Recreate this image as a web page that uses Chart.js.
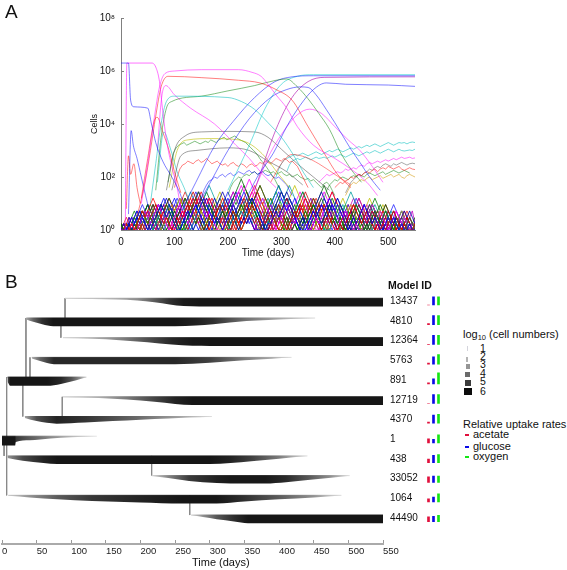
<!DOCTYPE html>
<html>
<head>
<meta charset="utf-8">
<title>Clone dynamics and lineage tree</title>
<script src="https://cdn.jsdelivr.net/npm/chart.js@4.4.1/dist/chart.umd.min.js"></script>
<style>
body { margin: 0; background: #fff; }
#page { position: relative; width: 567px; height: 570px; overflow: hidden; font-family: "Liberation Sans", Arial, sans-serif; color: #111; }
#page canvas { position: absolute; }
.t { position: absolute; white-space: nowrap; line-height: 1; }
.sq { position: absolute; }
</style>
</head>
<body>
<div id="page">
  <canvas id="chartA" width="430" height="265" style="left:0;top:0"></canvas>
  <canvas id="chartB" width="425" height="300" style="left:0;top:270px"></canvas>
  <canvas id="chartC" width="30" height="300" style="left:420px;top:270px"></canvas>

  <div class="t" style="left:5px;top:2px;font-size:19px">A</div>
  <div class="t" style="left:5px;top:272px;font-size:19px">B</div>
  <div class="t" style="left:388px;top:280px;font-size:10.5px;font-weight:bold">Model ID</div>
  <div class="t" style="left:192px;top:557px;font-size:11px">Time (days)</div>

  <!-- legend: log10 cell numbers -->
  <div class="t" style="left:463px;top:329px;font-size:11px">log<span style="font-size:7.5px;position:relative;top:2px">10</span> (cell numbers)</div>
  <div class="sq" style="left:467px;top:346px;width:1px;height:5px;background:#d4d4dc"></div>
  <div class="sq" style="left:466px;top:357px;width:2px;height:5px;background:#b4b4b4"></div>
  <div class="sq" style="left:466px;top:364px;width:4px;height:5px;background:#959595"></div>
  <div class="sq" style="left:465px;top:372px;width:5px;height:5px;background:#6a6a6a"></div>
  <div class="sq" style="left:465px;top:380px;width:6px;height:6px;background:#3c3c3c"></div>
  <div class="sq" style="left:464px;top:388px;width:8px;height:7px;background:#0c0c0c"></div>
  <div class="t" style="left:480px;top:343px;font-size:10.5px">1</div>
  <div class="t" style="left:480px;top:351px;font-size:10.5px">2</div>
  <div class="t" style="left:480px;top:359px;font-size:10.5px">3</div>
  <div class="t" style="left:480px;top:368px;font-size:10.5px">4</div>
  <div class="t" style="left:480px;top:376px;font-size:10.5px">5</div>
  <div class="t" style="left:480px;top:386px;font-size:10.5px">6</div>

  <!-- legend: uptake -->
  <div class="t" style="left:463px;top:419px;font-size:11px">Relative uptake rates</div>
  <div class="sq" style="left:465px;top:434px;width:4px;height:2px;background:#e0103c"></div>
  <div class="sq" style="left:465px;top:446px;width:4px;height:2px;background:#0a0ae6"></div>
  <div class="sq" style="left:465px;top:456px;width:4px;height:2px;background:#14e614"></div>
  <div class="t" style="left:473px;top:429px;font-size:11px">acetate</div>
  <div class="t" style="left:473px;top:441px;font-size:11px">glucose</div>
  <div class="t" style="left:473px;top:451px;font-size:11px">oxygen</div>
</div>

<script>
// -------------------------------
// DATA - panel A (cells over time)
// -------------------------------
const timeTicksA = [0, 100, 200, 300, 400, 500];
const cellTicks = [1, 1e2, 1e4, 1e6, 1e8];
const cellTickLabels = ['10⁰', '10²', '10⁴', '10⁶', '10⁸'];

// big clones: [day, log10 cells]
const blueFounder = [[0,6.3],[14,6.3],[18,4.9],[24,4.65],[50,4.6],[57,4.0],[65,3.3],[78,2.6],[95,2.0],[110,1.4],[120,0.8]];
const pinkFounder = [[8,0],[11,6.3],[58,6.3],[66,6.1],[72,5.6],[78,4.5],[85,3.4],[95,2.4],[105,1.6],[112,0.8]];
const pinkPlateau = [[38,1.0],[50,2.5],[62,4.2],[72,5.4],[82,5.9],[100,6.0],[150,6.05],[220,6.05],[245,5.95],[262,5.8],[275,5.5],[290,5.1],[310,4.6],[330,3.9],[360,3.2],[400,2.7],[430,2.3],[460,1.8],[480,1.3]];
const redPlateau = [[30,0.5],[45,1.8],[55,3.0],[65,4.3],[75,5.4],[88,5.8],[150,5.75],[220,5.65],[260,5.55],[290,5.3],[320,4.9],[350,3.9],[380,2.9],[405,2.1],[430,1.6]];
const cyanPlateau = [[55,1.0],[65,2.5],[75,4.0],[85,4.85],[100,5.05],[200,5.0],[225,4.85],[250,4.55],[275,4.05],[300,3.5],[322,2.85],[342,2.15],[360,1.6]];
const greenClimber = [[65,1.5],[75,3.5],[85,4.6],[95,4.85],[150,5.05],[200,5.25],[250,5.45],[290,5.65],[310,5.7],[330,5.4],[350,4.95],[370,4.4],[390,3.8],[410,2.95],[430,2.3],[450,1.8]];
const pinkDecline = [[68,3.0],[76,5.0],[84,5.45],[100,5.1],[130,4.6],[175,4.0],[215,3.2],[240,2.7],[265,2.1],[290,1.6]];
const redEarlyPeak = [[38,1.2],[50,2.7],[62,4.1],[68,4.25],[78,3.7],[90,3.0],[100,2.2],[112,1.4]];
const blueEarlySpike = [[14,0.6],[19,3.75],[23,3.2],[30,2.7],[38,2.0],[46,1.3],[52,0.8]];
const redEarlySpike = [[10,0.8],[14,2.8],[18,2.1],[24,2.5],[30,1.6],[36,1.0]];
const blueRiserA = [[115,0.8],[140,1.8],[176,3.2],[210,4.1],[250,5.0],[288,5.6],[320,5.78],[360,5.82],[550,5.82]];
const blueRiserB = [[140,0.8],[170,1.9],[200,3.0],[240,4.2],[280,5.0],[310,5.3],[335,5.4],[350,5.38],[365,5.1],[384,4.55],[400,4.05],[415,3.55],[430,3.05],[447,2.55],[465,2.0],[485,1.5]];
const blueRiserC = [[230,1.0],[255,2.0],[285,2.9],[310,3.9],[335,4.7],[360,5.3],[384,5.55],[420,5.5],[500,5.47],[550,5.42]];
const cyanTop = [[200,1.5],[240,3.2],[270,4.6],[300,5.5],[330,5.8],[360,5.86],[550,5.86]];
const purpleTop = [[250,1.5],[290,3.8],[320,5.0],[350,5.6],[380,5.76],[550,5.78]];
const pinkHump = [[240,1.2],[260,2.0],[273,2.65],[300,3.6],[330,4.35],[353,4.56],[375,4.4],[400,3.9],[425,3.4],[447,3.0],[470,2.4],[490,1.8]];
const grayMid = [[85,1.5],[100,3.0],[120,3.55],[150,3.7],[200,3.72],[250,3.7],[275,3.5],[300,3.05],[330,2.5],[360,2.0],[390,1.5]];
const yellowMid = [[90,1.6],[105,3.0],[125,3.4],[170,3.45],[220,3.4],[245,3.2],[270,2.75],[295,2.1],[315,1.6]];
const grayLow = [[95,1.5],[112,2.8],[140,3.0],[200,3.1],[240,3.0],[275,2.6],[310,2.2],[340,1.7]];
const redLate = [[280,1.8],[300,2.5],[320,2.85],[345,2.75],[370,2.5],[400,2.1],[430,1.7]];
const cyanEarly = [[68,1.8],[80,3.7],[92,3.1],[105,2.2],[118,1.6],[128,1.1]];

// wiggly mid-sized clones: log10 cells every 5 days from the start day
const wiggleStep = 5;
const redMidLogs = [1.6,2.0,2.3,2.45,2.5,2.6,2.55,2.5,2.6,2.65,2.55,2.6,2.7,2.6,2.5,2.55,2.6,2.5,2.45,2.5,2.4,2.5,2.55,2.45,2.4,2.5,2.45,2.35,2.45,2.5,2.4,2.45,2.55,2.5,2.6,2.55,2.5,2.6,2.7,2.65,2.6,2.7,2.65,2.55,2.6,2.5,2.4,2.2,2.0,1.8,1.6];
const greenMidLogs = [1.8,2.4,2.9,3.1,3.2,3.25,3.3,3.2,3.25,3.3,3.35,3.3,3.25,3.3,3.35,3.3,3.4,3.35,3.3,3.4,3.45,3.5,3.4,3.45,3.5,3.55,3.45,3.4,3.35,3.3,3.2,3.1,3.0,2.9,2.75,2.6,2.5,2.35,2.2,2.05,1.9,1.7,1.5];
const cyanTailALogs = [2.0,2.3,2.5,2.65,2.7,2.75,2.8,2.85,2.8,2.85,2.9,2.85,2.8,2.85,2.9,2.95,2.9,2.85,2.9,2.95,3.0,2.95,3.0,3.05,3.0,2.95,3.0,3.05,3.1,3.05,3.1,3.15,3.1,3.15,3.2,3.15,3.2,3.25,3.2,3.15,3.2,3.25,3.3,3.25,3.2,3.25,3.3,3.28,3.3,3.25,3.3,3.32,3.3];
const cyanTailBLogs = [2.2,2.45,2.6,2.65,2.7,2.65,2.7,2.75,2.7,2.65,2.7,2.75,2.7,2.72,2.75,2.7,2.75,2.8,2.75,2.8,2.85,2.8,2.75,2.8,2.85,2.9,2.85,2.8,2.85,2.9,2.95,2.9,2.95,3.0,2.95,2.9,2.95,3.0,3.05,3.0,2.95,3.0,3.05,3.0,2.98,3.0,3.02,3.0,3.05];
const pinkTailLogs = [1.8,1.9,2.0,2.1,2.05,2.1,2.15,2.2,2.15,2.2,2.3,2.25,2.3,2.35,2.3,2.4,2.45,2.4,2.5,2.55,2.5,2.55,2.6,2.55,2.6,2.65,2.6,2.65,2.7,2.65,2.7,2.75,2.7,2.72,2.75,2.7,2.72];
const redTailLogs = [1.6,1.7,1.8,1.75,1.85,1.9,2.0,1.95,2.05,2.1,2.05,2.15,2.2,2.15,2.25,2.3,2.2,2.3,2.35,2.3,2.4,2.35,2.3,2.35,2.4,2.3,2.25,2.3,2.35,2.3,2.28];
const grayTailLogs = [1.4,1.6,1.8,1.9,2.0,2.1,2.05,2.15,2.2,2.3,2.25,2.35,2.4,2.35,2.45,2.5,2.45,2.4,2.5,2.45,2.5,2.55,2.5,2.45,2.5,2.52,2.5];
const greenTailLogs = [1.2,1.5,1.7,1.8,1.9,1.85,1.95,2.0,1.95,1.9,2.0,2.05,2.0,2.1,2.05,2.0,2.1,2.15,2.1,2.05,2.1,2.15,2.2,2.1,2.15,2.2,2.25,2.2,2.15,2.2,2.25,2.2,2.15];
const yellowTailLogs = [1.3,1.5,1.7,1.8,1.75,1.85,1.9,1.85,1.95,2.0,1.9,1.95,2.0,2.05,1.95,2.0,2.05,2.1,2.0,2.05,2.1,2.0,1.95,2.05,2.1,2.05,2.0];
const blueMidLogs = [1.2,1.5,1.7,1.85,1.9,2.0,1.95,2.05,2.1,2.0,2.1,2.15,2.05,2.1,2.2,2.15,2.1,2.2,2.25,2.15,2.2,2.1,2.15,2.2,2.1,2.05,2.1,2.0,1.95,2.0,1.9,1.8,1.7,1.5,1.3];
const greenLowLogs = [1.3,1.6,1.8,1.9,2.0,1.95,2.05,2.1,2.05,2.15,2.2,2.1,2.15,2.2,2.25,2.2,2.15,2.2,2.1,2.15,2.2,2.1,2.05,2.1,2.0,2.05,2.1,2.0,1.95,1.9,1.95,1.85,1.9,1.8,1.7,1.6,1.75,1.8,1.7,1.5,1.3];

// small clones near the floor: one digit per 5 days, digit d = 10^(0.24 d) cells
const floorStepDays = 5;
const floorDigitDecades = 0.24;
const floorClones = [
  "0001212321 0012343232 1001232343 4543212101 2343456545 4321011232 3434321000 1232343454 3232101212 3432121001 2121010010 0",
  "0010101232 3454323210 0123234545 6545432121 0012121234 3432123210 0101232345 4323434321 0012123432 1212321010 1232101000 1",
  "1010001232 1212343432 1000123456 5434321232 1012343234 5676543210 0121232101 2343454321 2121012343 2101232123 2101000121 0",
  "0000100123 2123432101 2343212345 4323210001 2345676787 6545432101 2343212101 0012123454 3212321010 0123432321 0123212101 0",
  "0101012121 0123434543 2101232343 2123454565 4321012121 0001232345 6565432121 0123212343 4543210101 2121232101 0012123232 1",
  "0010001010 1234321210 1212343454 5432123432 1232345432 1210001234 3454323456 5432101212 1010123434 3232101012 3210101210 0",
  "0000012321 2101232343 2121000123 4567654321 0121232321 2345454567 6545432101 2123210001 2343456543 2121012123 2321012101 0",
  "1001010123 4343210012 3234543212 1012343432 3456787654 3210121234 3210010123 2343212345 4321001232 1010123434 3212101001 2",
  "0010101012 1232101234 3454543212 3212100123 2343434543 2101232123 4345676543 2101212101 2345434321 0121012343 2101232101 0",
  "0100001232 3210121234 3212343456 5432100123 4565432123 2101234323 2121012345 4543212101 0123234545 4321012121 0123210123 1",
  "0001012123 2121012343 4543210123 2343212345 6543212343 2100123456 5432121010 1234343210 1212343454 3210012101 2343210101 0",
  "0010100101 2343212101 2345654321 0012123434 3210123456 7654321012 1210123432 3454321012 3210012345 4321210101 2121012321 0",
  "1000010123 2101232123 2101234345 4343212100 1232343454 3232345432 1001234565 4321212343 2101232121 0123432101 2101210010 1",
  "0000101012 3232101234 5432123210 1234321234 5456543212 1001232123 4345454321 0012121234 3432101234 3212321010 0121232101 0",
  "0101001232 1210123432 1232345432 1010123454 3232101234 5654543210 1232123432 1012343456 5432101212 3212101232 1010123210 0",
  "0010010123 4321012123 2100123434 5432101232 3454567654 3210123212 1012343212 3454321001 2123432101 0123454321 0121010100 1",
  "0000100121 2343432101 0123234321 2345434321 0012343456 5432121012 3234345654 3210012123 2101234321 2121012123 2121010121 0",
  "0001001012 1232343210 1234543212 1001234343 2123212345 4321001232 3454321012 1234565432 1012323210 0123432123 2101232101 0",
  "1010010123 2121001234 3432345654 3210121234 3210123434 5676543210 0121232343 2101234321 2343210012 1232101234 3210101210 1",
  "0000010123 4321212101 2343456543 2101232343 2123454543 2101212343 4567654321 0123210012 3434321012 1012343232 1010121010 0",
  "0100101232 1210123454 3210012323 4565432101 2121234345 4321012123 2343210012 3454567654 3210121010 1234321012 1232101000 1",
  "0010001012 3212343210 1012343234 3212345654 3212101232 3454321232 1001234345 4321234343 2101232101 2345432101 0121012101 0",
  "0000100123 2101234321 0123454321 2343210123 4565654321 0123432101 2345432121 0012343456 5432101212 3434321012 1010012101 0",
  "0101010121 2343210123 4321234565 4321012121 2343454323 2101234567 6543212343 2101212343 4543210012 1232121012 3212101010 1",
  "0121012321 2101234343 2121012345 4321232101 2343212345 6543210123 2121012343 4321012121 2343212101 0121232101 2121010101 0",
  "1010121012 3432101232 1012123454 3210012343 4543212343 2101234565 4321012121 2343210123 2101232121 0123212101 0101210101 0",
  "0102123210 1232345432 1012321012 3454321232 1012343454 5432101212 3454321012 1232123434 3210121012 3432101210 1012101210 1",
  "0012101012 3210123454 3212101232 3454543210 1232123432 1012345432 1012121234 3432101232 1012343212 1010123210 1210101010 0",
  "1001232101 2121232343 2101234321 0121234545 4321012123 2101232345 6543210121 0123434321 2121012321 0121232101 0101210101 0",
  "0101210123 4321012121 2343212345 4321012101 2343454321 0121232343 2101234321 2343456543 2101212101 2343210121 0121010121 0",
  "0010123212 1012343210 1232101234 5432101212 3432123454 3210121012 3434321012 1012345432 1012321012 3432101210 1232101010 1",
  "1000121232 1012123210 1234543212 1012323432 1012345654 3210121012 3210123434 3212101234 3210123212 1012123210 1010121010 0",
  "0101012321 0123432101 2121234321 2343212101 2345432123 2101234343 2101212343 4543212101 2343210121 2321012101 2101010121 0",
  "0010121012 1234321012 3454321012 1232101234 3432101234 5654321012 1232123432 1012343212 1010123432 1012321210 1210121010 1",
  "1010101232 3210121234 3210123212 3454321012 1012343454 3212101232 3454321012 1232101234 5432101212 3210123212 1012101210 0",
  "0001210123 2101232123 4343210123 2123432101 2345654321 0121234321 2343212101 2343432101 2121012343 2101012121 0101210101 0",
  "0100012343 2101212343 2101234543 2101232123 2343454321 0123212343 2101234565 4321012123 2101232121 0123432101 2101010101 0",
  "1010012121 0123432101 2345432123 2101234323 2101232343 4543210121 2343212101 2345432101 2121012321 0121012321 0101012101 1",
  "0101010123 4321012343 2121012345 4321012121 0123234545 4321012343 2101232123 4343210123 2101212343 2101210123 2101010101 0",
  "0010121012 3212101234 3212343456 5432101212 3432101234 3232101234 5454321012 1232101234 3210123212 1012121012 1010101210 0"
];
const floorCloneColors = ['#0000ff', '#ff0000', '#008000', '#ff00ff', '#0000b0', '#d00000', '#00a0a0', '#006400', '#bfbf00', '#c000c0', '#2020ff', '#e02020', '#00b000'];

// -------------------------------
// DATA - panel B (lineage tree)
// -------------------------------
const timeTicksB = [0, 50, 100, 150, 200, 250, 300, 350, 400, 450, 500, 550];
const modelIds = ['13437', '4810', '12364', '5763', '891', '12719', '4370', '1', '438', '33052', '1064', '44490'];

// [day, log10 cells] for each lineage, top to bottom
const track13437 = [[91,1.2],[130,1.8],[165,2.4],[195,3.1],[220,4.2],[242,5.2],[262,5.85],[285,6],[550,6]];
const track4810 = [[35,2.5],[45,4.0],[58,5.2],[74,6.0],[250,6.0],[280,5.7],[305,5.2],[353,3.7],[400,2.5],[452,0.8]];
const track12364 = [[88,1.2],[130,2.2],[170,3.3],[210,4.5],[245,5.5],[275,5.95],[300,6],[550,6]];
const track5763 = [[43,2.3],[55,4.0],[75,5.45],[250,5.45],[300,4.8],[350,3.5],[390,2.4],[418,0.8]];
const track891 = [[8,4.5],[12,6.2],[65,6.2],[85,5.5],[100,4.4],[112,3.1],[122,1]];
const track12719 = [[88,1.2],[140,2.3],[180,3.5],[220,4.7],[250,5.6],[275,6],[550,6]];
const track4370 = [[33,2.5],[50,4.5],[79,5.6],[120,5.1],[160,4.5],[200,3.8],[240,3.0],[270,2.2],[303,0.8]];
const track1 = [[0,6.4],[19,6.4],[20,5.0],[40,4.2],[70,3.2],[100,2.2],[137,0.6]];
const track438 = [[8,3.0],[30,4.6],[60,5.6],[80,6.0],[300,6.0],[330,5.6],[360,4.8],[400,3.5],[441,0.8]];
const track33052 = [[216,1.2],[240,3.3],[270,4.9],[310,5.7],[330,5.9],[380,5.9],[410,5.4],[445,4.2],[475,3.0],[502,0.8]];
const track1064 = [[9,1.5],[40,3.0],[80,4.2],[130,5.0],[200,5.6],[260,6.0],[310,6.0],[350,5.2],[400,4.2],[450,3.0],[490,0.8]];
const track44490 = [[273,1.2],[290,3.0],[310,4.3],[335,5.3],[355,6.0],[550,6.0]];

// branch links: [day, row of one end, row of the other end]
const branchLinks = [[3,7,8],[6.7,4,10],[30,4,6],[34.6,1,4],[40.4,3,4],[85,1,2],[91,0,1],[87,5,6.2],[216,8,9],[271,10,11]];

// relative uptake rates per lineage (1 = full bar)
const acetateUptake = [0, 0.12, 0, 0.12, 0.12, 0, 0.12, 0.45, 0.4, 0.6, 0.35, 0.55];
const glucoseUptake = [0.92, 1.0, 1.0, 0.8, 0.55, 1.0, 0.9, 0.4, 0.8, 0.7, 0.55, 0.6];
const oxygenUptake = [0.92, 1.0, 1.0, 1.05, 1.22, 1.0, 1.0, 0.9, 0.9, 0.7, 0.9, 0.7];

// -------------------------------
// HELPERS
// -------------------------------
const FONT = "'Liberation Sans', Arial, sans-serif";
Chart.defaults.font.family = FONT;
Chart.defaults.color = '#111';

function fixBox(w, h) {
    return s => {
        if (w != null) s.width = w;
        if (h != null) s.height = h;
        s.paddingLeft = s.paddingRight = s.paddingTop = s.paddingBottom = 0;
    };
}

const toCells = pts => pts.map(p => ({ x: p[0], y: Math.pow(10, p[1]) }));
const wiggleCells = (start, logs) => logs.map((v, i) => ({ x: start + i * wiggleStep, y: Math.pow(10, v) }));

function parseClone(str) {
    const chars = str.replace(/\s/g, '');
    return Array.from(chars).map((c, i) => ({ x: i * floorStepDays, y: Math.pow(10, Number(c) * floorDigitDecades) }));
}

// -------------------------------
// CHART A
// -------------------------------
const majorLines = [
    [blueFounder, 'rgba(0,0,255,0.5)'], [pinkFounder, 'rgba(255,0,255,0.55)'],
    [pinkPlateau, 'rgba(255,0,255,0.5)'], [redPlateau, 'rgba(255,0,0,0.5)'],
    [cyanPlateau, 'rgba(0,190,190,0.55)'], [greenClimber, 'rgba(0,128,0,0.5)'],
    [pinkDecline, 'rgba(255,0,255,0.5)'], [redEarlyPeak, 'rgba(255,0,0,0.5)'],
    [blueEarlySpike, 'rgba(0,0,255,0.5)'], [redEarlySpike, 'rgba(255,0,0,0.5)'],
    [blueRiserA, 'rgba(0,0,255,0.5)'], [blueRiserB, 'rgba(0,0,255,0.5)'],
    [blueRiserC, 'rgba(0,0,255,0.5)'], [cyanTop, 'rgba(0,200,200,0.55)'],
    [purpleTop, 'rgba(170,0,170,0.6)'], [pinkHump, 'rgba(255,0,255,0.5)'],
    [grayMid, 'rgba(64,64,64,0.5)'], [yellowMid, 'rgba(190,190,0,0.6)'],
    [grayLow, 'rgba(64,64,64,0.5)'], [redLate, 'rgba(255,0,0,0.45)'],
    [cyanEarly, 'rgba(0,190,190,0.55)']
];
const wiggleLines = [
    [100, redMidLogs, 'rgba(255,0,0,0.5)'], [88, greenMidLogs, 'rgba(0,128,0,0.5)'],
    [290, cyanTailALogs, 'rgba(0,190,190,0.55)'], [310, cyanTailBLogs, 'rgba(0,190,190,0.55)'],
    [370, pinkTailLogs, 'rgba(255,0,255,0.5)'], [400, redTailLogs, 'rgba(255,0,0,0.5)'],
    [420, grayTailLogs, 'rgba(64,64,64,0.45)'], [380, greenTailLogs, 'rgba(0,128,0,0.5)'],
    [420, yellowTailLogs, 'rgba(210,150,0,0.55)'], [150, blueMidLogs, 'rgba(0,0,255,0.5)'],
    [200, greenLowLogs, 'rgba(0,128,0,0.5)']
];

const datasetsA = [];
majorLines.forEach(([pts, color]) => {
    datasetsA.push({ data: toCells(pts), borderColor: color, borderWidth: 1, cubicInterpolationMode: 'monotone' });
});
wiggleLines.forEach(([start, logs, color]) => {
    datasetsA.push({ data: wiggleCells(start, logs), borderColor: color, borderWidth: 1, tension: 0 });
});
floorClones.forEach((s, i) => {
    datasetsA.push({ data: parseClone(s), borderColor: floorCloneColors[i % floorCloneColors.length] + 'c8', borderWidth: 1, tension: 0 });
});

new Chart(document.getElementById('chartA'), {
    type: 'line',
    data: { datasets: datasetsA },
    options: {
        responsive: false, animation: false, events: [],
        layout: { padding: { left: 85, right: 15, top: 18, bottom: 0 } },
        plugins: { legend: { display: false }, tooltip: { enabled: false } },
        elements: { point: { radius: 0 } },
        scales: {
            x: {
                type: 'linear', min: 0, max: 550,
                afterBuildTicks: s => { s.ticks = timeTicksA.map(v => ({ value: v })); },
                afterFit: fixBox(null, 35),
                grid: { display: true, drawOnChartArea: false, tickLength: -3, color: '#808080' },
                border: { display: true, color: '#808080' },
                ticks: { padding: 9, autoSkip: false, maxRotation: 0, font: { size: 10 } },
                title: { display: true, text: 'Time (days)', font: { size: 10 }, padding: { top: 0, bottom: 6 } }
            },
            y: {
                type: 'logarithmic', min: 1, max: 1e8,
                afterBuildTicks: s => { s.ticks = cellTicks.map(v => ({ value: v })); },
                afterFit: fixBox(36, null),
                grid: { display: true, drawOnChartArea: false, tickLength: -3, color: '#808080' },
                border: { display: true, color: '#808080' },
                ticks: { padding: 9, autoSkip: false, font: { size: 10 }, callback: v => cellTickLabels[cellTicks.indexOf(v)] },
                title: { display: true, text: 'Cells', font: { size: 9 }, padding: { top: 4, bottom: 0 } }
            }
        }
    }
});

// -------------------------------
// CHART B
// -------------------------------
const tracks = [track13437, track4810, track12364, track5763, track891, track12719, track4370, track1, track438, track33052, track1064, track44490];

const FULL_ROWS = 0.415;     // thickness of a 10^6 lineage, in row units
const shadeStops = [[0.5, 235], [1, 215], [2, 185], [3, 145], [4, 100], [5, 55], [6, 22]];

function shade(logN) {
    let v = shadeStops[shadeStops.length - 1][1];
    if (logN <= shadeStops[0][0]) v = shadeStops[0][1];
    for (let i = 1; i < shadeStops.length; i++) {
        const [a, va] = shadeStops[i - 1], [b, vb] = shadeStops[i];
        if (logN >= a && logN <= b) { v = va + (vb - va) * (logN - a) / (b - a); break; }
    }
    v = Math.round(Math.max(10, Math.min(240, v)));
    return `rgb(${v},${v},${v})`;
}

const thickness = logN => FULL_ROWS * Math.pow(Math.max(0, logN) / 6, 2);

function trackGradient(chart, pts) {
    const { ctx, chartArea, scales } = chart;
    if (!chartArea || !scales.x) return '#888';
    const p0 = scales.x.getPixelForValue(pts[0][0]);
    const p1 = scales.x.getPixelForValue(pts[pts.length - 1][0]);
    const g = ctx.createLinearGradient(p0, 0, p1, 0);
    pts.forEach(p => {
        const off = Math.min(1, Math.max(0, (scales.x.getPixelForValue(p[0]) - p0) / (p1 - p0)));
        g.addColorStop(off, shade(p[1]));
    });
    return g;
}

const datasetsB = [];
tracks.forEach((pts, row) => {
    const t0 = pts[0][0], t1 = pts[pts.length - 1][0];
    datasetsB.push({
        data: [{ x: t0, y: row }, { x: t1, y: row }],
        borderColor: c => trackGradient(c.chart, pts), borderWidth: 1, fill: false
    });
    datasetsB.push({
        data: pts.map(p => ({ x: p[0], y: row + thickness(p[1]) })),
        borderWidth: 0, backgroundColor: c => trackGradient(c.chart, pts),
        fill: '-1', cubicInterpolationMode: 'monotone'
    });
});
branchLinks.forEach(([t, a, b]) => {
    datasetsB.push({ data: [{ x: t, y: a }, { x: t, y: b }], borderColor: '#8a8a8a', borderWidth: 1, fill: false });
});

new Chart(document.getElementById('chartB'), {
    type: 'line',
    data: { datasets: datasetsB },
    options: {
        responsive: false, animation: false, events: [],
        layout: { padding: { left: 2, right: 0, top: 14.5, bottom: 0 } },
        plugins: { legend: { display: false }, tooltip: { enabled: false } },
        elements: { point: { radius: 0 } },
        scales: {
            x: {
                type: 'linear', min: 0, max: 550,
                afterBuildTicks: s => { s.ticks = timeTicksB.map(v => ({ value: v })); },
                afterFit: fixBox(null, 26),
                grid: { display: true, drawOnChartArea: false, tickLength: -4, color: '#999' },
                border: { display: true, color: '#aaa', width: 2 },
                ticks: { align: 'start', padding: 6, autoSkip: false, maxRotation: 0, color: '#222', font: { size: 9.5 } }
            },
            y: {
                type: 'linear', position: 'right', min: -0.7, max: 12.47, reverse: true,
                afterBuildTicks: s => { s.ticks = modelIds.map((_, i) => ({ value: i + 0.15 })); },
                afterFit: fixBox(42, null),
                grid: { display: false, drawTicks: false },
                border: { display: false },
                ticks: { padding: 7, autoSkip: false, crossAlign: 'near', font: { size: 10 }, callback: v => modelIds[Math.round(v - 0.15)] }
            }
        }
    }
});

// -------------------------------
// CHART C - uptake bars
// -------------------------------
const BAR_BASE = 0.34;   // bottom of the bars, in row units below the lineage top
const BAR_UNIT = 0.457;  // rows for a rate of 1
const uptakeSeries = [[acetateUptake, '#e0103c'], [glucoseUptake, '#0a0ae6'], [oxygenUptake, '#14e614']];

new Chart(document.getElementById('chartC'), {
    type: 'bar',
    data: {
        datasets: uptakeSeries.map(([vals, color], col) => ({
            data: vals.map((v, row) => ({ x: col, y: [row + BAR_BASE - v * BAR_UNIT, row + BAR_BASE] })),
            backgroundColor: color, borderWidth: 0, barThickness: 2, grouped: false
        }))
    },
    options: {
        responsive: false, animation: false, events: [],
        layout: { padding: { left: 0, right: 0, top: 14.5, bottom: 26 } },
        plugins: { legend: { display: false }, tooltip: { enabled: false } },
        scales: {
            x: { type: 'linear', min: -1.7, max: 4.3, offset: false, display: false },
            y: { type: 'linear', min: -0.7, max: 12.47, reverse: true, display: false }
        }
    }
});
</script>
</body>
</html>
